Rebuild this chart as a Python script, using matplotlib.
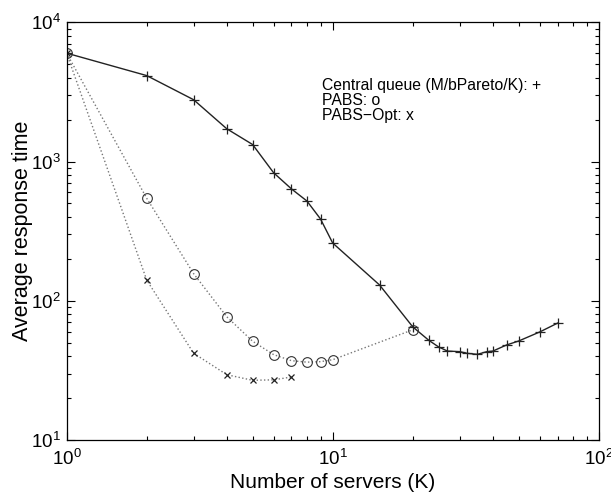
import matplotlib
matplotlib.use("Agg")
import matplotlib.pyplot as plt
from matplotlib.ticker import LogLocator, NullFormatter

plt.rcParams['font.family'] = ['Liberation Sans', 'DejaVu Sans']

cq_k = [1, 2, 3, 4, 5, 6, 7, 8, 9, 10, 15, 20, 23, 25, 27, 30, 32, 35, 38, 40, 45, 50, 60, 70]
cq_t = [6000, 4140, 2780, 1718, 1325, 830, 636, 521, 387, 260, 130, 65, 52, 46.7, 43.6, 43.2, 42, 41.3, 43.2, 43.6, 48.2, 51.5, 59.8, 69.2]

pabs_k = [1, 2, 3, 4, 5, 6, 7, 8, 9, 10, 20]
pabs_t = [6000, 545, 157, 76.8, 51.3, 41.1, 37.2, 36.3, 36.6, 37.8, 62]

opt_k = [1, 2, 3, 4, 5, 6, 7]
opt_t = [6000, 141, 42.1, 29.5, 26.9, 27.1, 28.4]

fig = plt.figure(figsize=(6.11, 4.94), dpi=100)
ax = fig.add_axes([0.109, 0.109, 0.871, 0.846])

ax.plot(cq_k, cq_t, '-', color='#222222', lw=1.0, marker='+', ms=7.5, mew=0.9)
ax.plot(pabs_k, pabs_t, ':', color='#777777', lw=1.0, marker='o', ms=7,
        mfc='none', mec='#333333', mew=0.8)
ax.plot(opt_k, opt_t, ':', color='#777777', lw=1.0, marker='x', ms=4.5,
        mec='#222222', mew=0.9)

ax.set_xscale('log')
ax.set_yscale('log')
ax.set_xlim(1, 100)
ax.set_ylim(10, 10000)

for a in (ax.xaxis, ax.yaxis):
    a.set_major_locator(LogLocator(base=10, numticks=10))
    a.set_minor_locator(LogLocator(base=10, subs=range(2, 10), numticks=10))
    a.set_minor_formatter(NullFormatter())

ax.tick_params(which='both', direction='in', top=True, right=True, width=0.8)
ax.tick_params(which='major', length=6, labelsize=13.5)
ax.tick_params(which='minor', length=3)
ax.tick_params(axis='x', which='major', pad=6)
ax.tick_params(axis='y', which='major', pad=4)
for s in ax.spines.values():
    s.set_linewidth(0.9)

ax.set_xlabel('Number of servers (K)', fontsize=15, labelpad=3)
ax.set_ylabel('Average response time', fontsize=15.5, labelpad=-1)

tx = 0.48
fs = 11.3
ax.text(tx, 0.849, 'Central queue (M/bPareto/K): +', transform=ax.transAxes,
        fontsize=fs, va='center', ha='left')
ax.text(tx, 0.813, 'PABS: o', transform=ax.transAxes,
        fontsize=fs, va='center', ha='left')
ax.text(tx, 0.777, 'PABS\u2212Opt: x', transform=ax.transAxes,
        fontsize=fs, va='center', ha='left')

fig.savefig('out.png', dpi=100)
